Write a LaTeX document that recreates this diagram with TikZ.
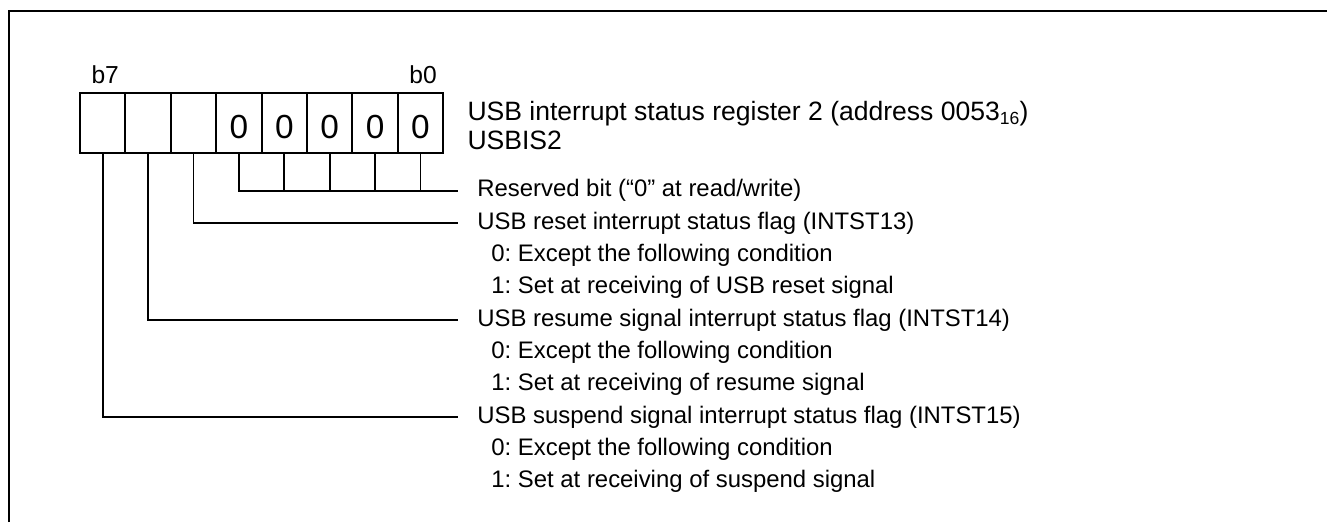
\documentclass[tikz,border=0pt]{standalone}
\usepackage{fontspec}
\setmainfont{Liberation Sans}
\frenchspacing
\usetikzlibrary{positioning}
\tikzset{
  reg frame/.style={draw=black, line width=1.1pt},
  reg cell/.style={draw=black, line width=1.1pt, minimum width=9.08mm,
    minimum height=12.12mm, inner sep=0pt, text height=17.8pt, text depth=0pt,
    font=\fontsize{19}{22}\selectfont},
  reg leader/.style={draw=black, line width=1.1pt},
  reg bitlabel/.style={inner sep=0pt, font=\fontsize{14}{16}\selectfont},
  reg title/.style={inner sep=0pt, align=left, font=\fontsize{15.1}{16.5}\selectfont},
  reg item/.style={inner sep=0pt, anchor=west, text height=0.716em, text depth=0pt,
    font=\fontsize{13.6}{18.4}\selectfont}
}

\begin{document}
\begin{tikzpicture}[x=1cm, y=1cm]
  \useasboundingbox (0,0) rectangle (26.54,10.44);
  \draw[reg frame] (0.18,0) -- (0.18,10.22) -- (26.54,10.22);
  % register cells, b7 on the left
  \foreach \b/\v in {7/{},6/{},5/{},4/0,3/0,2/0,1/0,0/0}
    \node[reg cell] (bit\b) at ({2.054+0.908*(7-\b)}, 7.98) {\v};
  \node[reg bitlabel, above=1.6mm of bit7, xshift=0.5mm] (lblb7) {b7};
  \node[reg bitlabel, above=1.6mm of bit0, xshift=0.5mm] (lblb0) {b0};
  \node[reg title, anchor=west, right=4.6mm of bit0, yshift=-0.5mm] (regname)
    {USB interrupt status register 2 (address 0053\raisebox{-0.3ex}{\fontsize{10}{10}\selectfont 16})\\USBIS2};
  % bit descriptions
  \node[reg item] (reserved) at (9.54,6.626) {Reserved bit (“0” at read/write)};
  \node[reg item] (reset) at (9.54,5.980) {USB reset interrupt status flag (INTST13)};
  \node[reg item] (reset0) at (9.82,5.334) {0: Except the following condition};
  \node[reg item] (reset1) at (9.82,4.688) {1: Set at receiving of USB reset signal};
  \node[reg item] (resume) at (9.54,4.042) {USB resume signal interrupt status flag (INTST14)};
  \node[reg item] (resume0) at (9.82,3.396) {0: Except the following condition};
  \node[reg item] (resume1) at (9.82,2.750) {1: Set at receiving of resume signal};
  \node[reg item] (suspend) at (9.54,2.104) {USB suspend signal interrupt status flag (INTST15)};
  \node[reg item] (suspend0) at (9.82,1.458) {0: Except the following condition};
  \node[reg item] (suspend1) at (9.82,0.812) {1: Set at receiving of suspend signal};
  % leaders
  \draw[reg leader] (bit4.south) |- ([xshift=-3.8mm]reserved.west);
  \foreach \b in {3,...,0}
    \draw[reg leader] (bit\b.south) -- (bit\b.south |- reserved.west);
  \draw[reg leader] (bit5.south) |- ([xshift=-3.8mm]reset.west);
  \draw[reg leader] (bit6.south) |- ([xshift=-3.8mm]resume.west);
  \draw[reg leader] (bit7.south) |- ([xshift=-3.8mm]suspend.west);
\end{tikzpicture}
\end{document}
